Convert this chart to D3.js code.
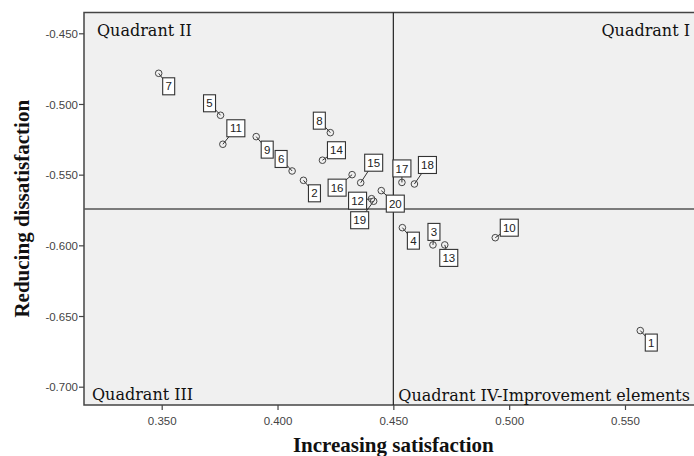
<!DOCTYPE html>
<html>
<head>
<meta charset="utf-8">
<script src="https://cdn.jsdelivr.net/npm/d3@7"></script>
<style>
  body { margin: 0; background: #fff; }
  svg { display: block; }
</style>
</head>
<body>
<div id="container"><svg></svg></div>
<script>
// element ids and their (satisfaction, dissatisfaction) coefficients
let ids = [1, 2, 3, 4, 5, 6, 7, 8, 9, 10, 11, 12, 13, 14, 15, 16, 17, 18, 19, 20];
let satisfaction = [0.5566, 0.4112, 0.4671, 0.4539, 0.3754, 0.4063, 0.3487, 0.4228, 0.3908, 0.4940,
                    0.3764, 0.4406, 0.4722, 0.4194, 0.4359, 0.4322, 0.4537, 0.4591, 0.4415, 0.4448];
let dissatisfaction = [-0.6603, -0.5540, -0.5997, -0.5875, -0.5080, -0.5474, -0.4783, -0.5203, -0.5231, -0.5946,
                       -0.5285, -0.5670, -0.5997, -0.5398, -0.5557, -0.5500, -0.5555, -0.5566, -0.5688, -0.5613];

let xTicks = [0.350, 0.400, 0.450, 0.500, 0.550];
let yTicks = [-0.450, -0.500, -0.550, -0.600, -0.650, -0.700];

// cut-off lines between quadrants
let xCut = 0.450;
let yCut = -0.5743;

// where SPSS put each label box (pixels from the point), same order as ids
let labelDx = [11, 11, 1, 11, -11, -11, 10, -11, 11, 14, 13, -14, 4, 14, 13, -15, 0, 13, -14, 14];
let labelDy = [12, 13, -13, 13, -12, -12, 13, -12, 13, -10, -16, 2, 13, -10, -20, 13, -14, -19, 19, 13];

let width = 694, height = 456;
let padding = {left: 84, top: 12.5, right: 0, bottom: 51};

let svg = d3.select('#container').select('svg')
    .attr('width', width)
    .attr('height', height);

let x = d3.scaleLinear()
    .domain([0.31646, 0.57979])
    .range([padding.left, width - padding.right]);
let y = d3.scaleLinear()
    .domain([-0.71295, -0.43529])
    .range([height - padding.bottom, padding.top]);

// spss prints a plain hyphen, not the unicode minus
let fmt = d => d.toFixed(3);

// plot background
svg.append('rect')
    .attr('x', padding.left)
    .attr('y', padding.top)
    .attr('width', width - padding.left - padding.right)
    .attr('height', height - padding.top - padding.bottom)
    .attr('fill', '#f0f0f0');

// x axis
let axis_x = d3.axisBottom(x).tickValues(xTicks).tickFormat(fmt).tickSize(5);
let gx = svg.append('g')
    .attr('transform', `translate(0, ${height - padding.bottom})`)
    .call(axis_x);
// y axis
let axis_y = d3.axisLeft(y).tickValues(yTicks).tickFormat(fmt).tickSize(5);
let gy = svg.append('g')
    .attr('transform', `translate(${padding.left}, 0)`)
    .call(axis_y);

[gx, gy].forEach(g => {
    g.select('.domain').remove();
    g.selectAll('line').attr('stroke', '#444').attr('stroke-width', 1.2);
    g.selectAll('text')
        .attr('fill', '#444')
        .attr('font-family', 'Liberation Sans, Arial, sans-serif')
        .attr('font-size', '11.5px');
});
gx.selectAll('text').attr('dy', '1.05em');
gy.selectAll('text').attr('dy', '0.35em').attr('x', -6);

// frame: left, top, bottom
svg.append('path')
    .attr('d', `M${width},${padding.top}H${padding.left}V${height - padding.bottom}H${width}`)
    .attr('fill', 'none')
    .attr('stroke', '#444')
    .attr('stroke-width', 1.5);

// quadrant lines
svg.append('line')
    .attr('x1', x(xCut)).attr('x2', x(xCut))
    .attr('y1', padding.top).attr('y2', height - padding.bottom)
    .attr('stroke', '#222').attr('stroke-width', 1.2);
svg.append('line')
    .attr('x1', padding.left).attr('x2', width)
    .attr('y1', y(yCut)).attr('y2', y(yCut))
    .attr('stroke', '#555').attr('stroke-width', 1.5);

// quadrant names
let qFont = 'DejaVu Serif, serif';
let quads = [
    {t: 'Quadrant II', x: padding.left + 13, y: padding.top + 23, a: 'start'},
    {t: 'Quadrant I', x: width - 4, y: padding.top + 23, a: 'end'},
    {t: 'Quadrant III', x: padding.left + 8, y: height - padding.bottom - 5, a: 'start'},
    {t: 'Quadrant IV-Improvement elements', x: width - 4, y: height - padding.bottom - 4, a: 'end'}
];
svg.append('g').selectAll('text')
    .data(quads)
    .enter().append('text')
    .attr('x', d => d.x)
    .attr('y', d => d.y)
    .attr('text-anchor', d => d.a)
    .attr('font-family', qFont)
    .attr('font-size', '16px')
    .attr('fill', '#111')
    .text(d => d.t);

// axis titles
svg.append('text')
    .attr('x', x(0.450))
    .attr('y', 452)
    .attr('text-anchor', 'middle')
    .attr('font-family', 'Liberation Serif, Times New Roman, serif')
    .attr('font-weight', 'bold')
    .attr('font-size', '21px')
    .attr('fill', '#111')
    .text('Increasing satisfaction');
svg.append('text')
    .attr('transform', `translate(29, ${(padding.top + height - padding.bottom) / 2}) rotate(-90)`)
    .attr('text-anchor', 'middle')
    .attr('font-family', 'Liberation Serif, Times New Roman, serif')
    .attr('font-weight', 'bold')
    .attr('font-size', '21px')
    .attr('fill', '#111')
    .text('Reducing dissatisfaction');

// points + labels
let pts = ids.map((id, i) => ({
    id: id,
    px: x(satisfaction[i]),
    py: y(dissatisfaction[i]),
    dx: labelDx[i],
    dy: labelDy[i]
}));

let marks = svg.append('g');
// leader lines
marks.selectAll('line')
    .data(pts)
    .enter().append('line')
    .attr('x1', d => d.px)
    .attr('y1', d => d.py)
    .attr('x2', d => d.px + d.dx)
    .attr('y2', d => d.py + d.dy)
    .attr('stroke', '#333')
    .attr('stroke-width', 1);
marks.selectAll('circle')
    .data(pts)
    .enter().append('circle')
    .attr('cx', d => d.px)
    .attr('cy', d => d.py)
    .attr('r', 3.3)
    .attr('fill', 'none')
    .attr('stroke', '#444')
    .attr('stroke-width', 1);

let boxes = marks.selectAll('g.lbl')
    .data(pts)
    .enter().append('g')
    .attr('class', 'lbl')
    .attr('transform', d => `translate(${d.px + d.dx}, ${d.py + d.dy})`);
boxes.append('rect')
    .attr('x', d => d.id > 9 ? -9 : -6)
    .attr('y', -8.5)
    .attr('width', d => d.id > 9 ? 18 : 12)
    .attr('height', 17)
    .attr('fill', '#fff')
    .attr('stroke', '#333')
    .attr('stroke-width', 1.1);
boxes.append('text')
    .attr('text-anchor', 'middle')
    .attr('dy', '0.36em')
    .attr('font-family', 'Liberation Sans, Arial, sans-serif')
    .attr('font-size', '11.5px')
    .attr('fill', '#222')
    .text(d => d.id);
</script>
</body>
</html>
